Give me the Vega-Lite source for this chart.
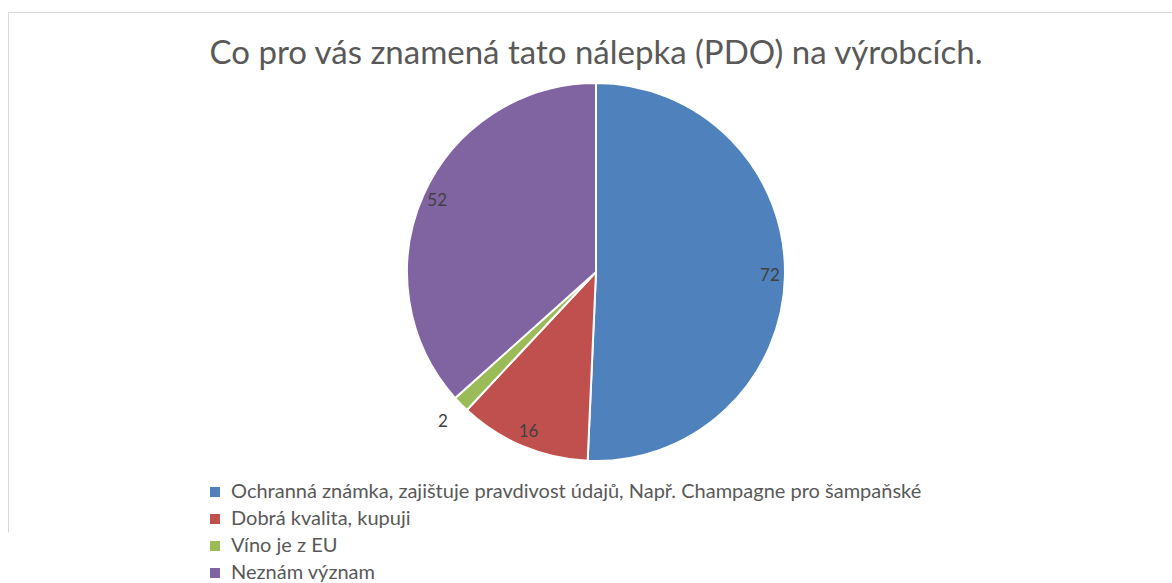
{
  "$schema": "https://vega.github.io/schema/vega-lite/v6.json",
  "autosize": "none",
  "width": 1176,
  "height": 520,
  "padding": {"left": 8, "top": 12, "right": 0, "bottom": 51},
  "background": "white",
  "view": {"stroke": "#d9d9d9", "strokeWidth": 1, "strokeDash": [1696, 1176, 520, 1]},
  "config": {
    "font": "Lato"
  },
  "title": {
    "text": "Co pro vás znamená tato nálepka (PDO) na výrobcích.",
    "font": "Lato",
    "fontSize": 33,
    "fontWeight": "normal",
    "color": "#595959",
    "anchor": "middle",
    "baseline": "alphabetic",
    "offset": -54,
    "dy": 31
  },
  "data": {
    "values": [
      {"i": 1, "odpoved": "Ochranná známka, zajištuje pravdivost údajů, Např. Champagne pro šampaňské", "pocet": 72},
      {"i": 2, "odpoved": "Dobrá kvalita, kupuji", "pocet": 16},
      {"i": 3, "odpoved": "Víno je z EU", "pocet": 2},
      {"i": 4, "odpoved": "Neznám význam", "pocet": 52}
    ]
  },
  "encoding": {
    "theta": {"field": "pocet", "type": "quantitative", "stack": true},
    "order": {"field": "i", "type": "quantitative"},
    "color": {
      "field": "odpoved",
      "type": "nominal",
      "sort": null,
      "scale": {
        "domain": [
          "Ochranná známka, zajištuje pravdivost údajů, Např. Champagne pro šampaňské",
          "Dobrá kvalita, kupuji",
          "Víno je z EU",
          "Neznám význam"
        ],
        "range": ["#4f81bd", "#c0504d", "#9bbb59", "#8064a2"]
      },
      "legend": {
        "orient": "none",
        "legendX": 197,
        "legendY": 470,
        "title": null,
        "symbolType": "square",
        "symbolSize": 100,
        "symbolStrokeWidth": 0,
        "labelFont": "Lato",
        "labelFontSize": 20,
        "labelColor": "#595959",
        "labelLimit": 1000,
        "labelOffset": 6,
        "rowPadding": 7
      }
    }
  },
  "layer": [
    {
      "mark": {"type": "arc", "outerRadius": 189, "stroke": "white", "strokeWidth": 2}
    },
    {
      "mark": {"type": "text", "font": "Lato", "fontSize": 17},
      "encoding": {
        "text": {"condition": {"test": "datum.pocet >= 5", "field": "pocet", "type": "quantitative"}, "value": ""},
        "radius": {"value": 174},
        "color": {"value": "#404040"}
      }
    },
    {
      "mark": {"type": "text", "font": "Lato", "fontSize": 17},
      "encoding": {
        "text": {"condition": {"test": "datum.pocet < 5", "field": "pocet", "type": "quantitative"}, "value": ""},
        "radius": {"value": 214},
        "color": {"value": "#404040"}
      }
    }
  ]
}
